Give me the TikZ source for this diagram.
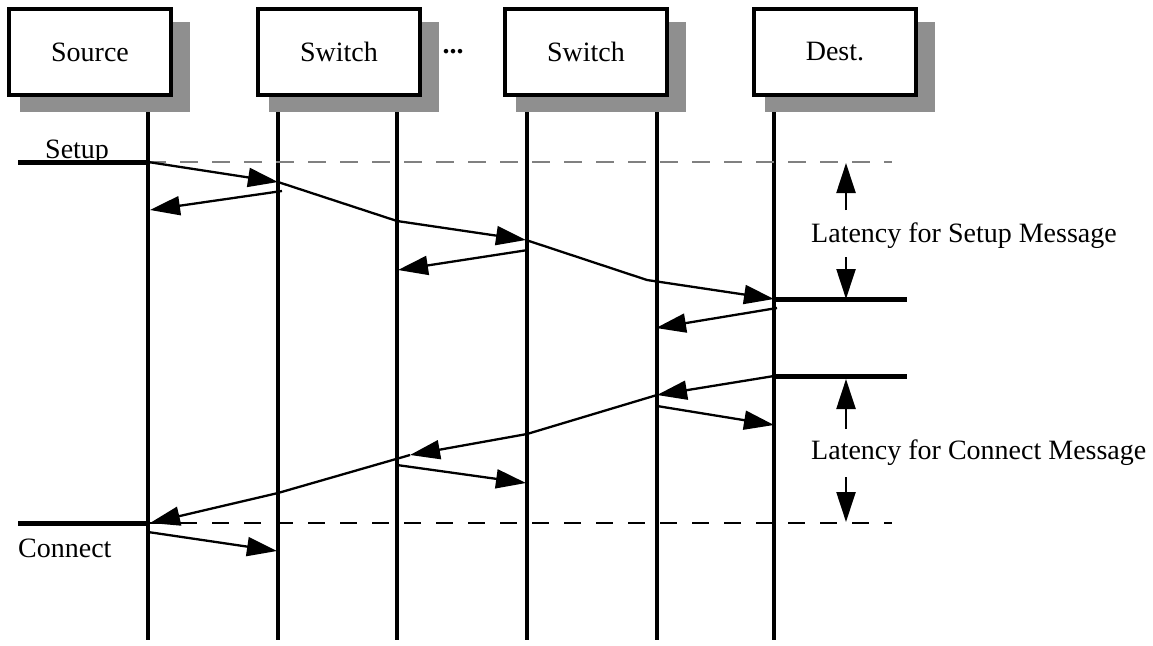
\documentclass[tikz,border=0pt]{standalone}
\usepackage{fontspec}
\setmainfont{Liberation Serif}
\usetikzlibrary{arrows.meta, positioning, shadows}

\begin{document}
\begin{tikzpicture}[x=1pt, y=-1pt, font=\fontsize{28}{34}\selectfont]
	\tikzstyle{entity} = [rectangle, minimum width=162.5pt, minimum height=86.5pt, draw=black, line width=3.8pt, fill=white, outer sep=0pt, drop shadow={shadow xshift=14.5pt, shadow yshift=-14.5pt, shadow scale=1.045, fill=black!44, opacity=1}]
	\tikzstyle{lifeline} = [line width=3.4pt]
	\tikzstyle{msg} = [line width=2.3pt, -{Triangle[length=30pt, width=19pt]}]
	\tikzstyle{bar} = [line width=5pt]
	\tikzstyle{marker} = [black!50, line width=1.6pt, dash pattern=on 18pt off 14pt]
	\tikzstyle{markerdark} = [black, line width=1.3pt, dash pattern=on 17pt off 15pt]

	\useasboundingbox (0,0) rectangle (1153,645);

	% Lifelines
	\foreach \n/\x in {a/148, b/278, c/397, d/527, e/657, f/774} {
		\coordinate (\n top) at (\x,97);
		\coordinate (\n bot) at (\x,640);
		\draw[lifeline] (\n top) -- (\n bot);
	}

	% Nodes
	\node (src) [entity] at (90,52) {Source};
	\node (swa) [entity, right=86.5pt of src] {Switch};
	\node (swb) [entity, right=84.5pt of swa] {Switch};
	\node (dst) [entity, right=86.5pt of swb] {Dest.};
	\node (dots) at (453,52) {\textbf{...}};

	% Setup phase
	\coordinate (setupin) at (18,162);
	\coordinate (a1) at (148,162);
	\coordinate (dashA) at (892,162);
	\coordinate (b1) at (278,182);
	\coordinate (b2) at (282,191);
	\coordinate (a2) at (150,210);
	\coordinate (c1) at (397,221);
	\coordinate (d1) at (526,240);
	\coordinate (d2) at (528,250);
	\coordinate (c2) at (398,270);
	\coordinate (e1) at (647,280);
	\coordinate (f1) at (774,299);
	\coordinate (f2) at (777,308);
	\coordinate (e2) at (656,328);
	\coordinate (setupout) at (907,299);

	\node (setup) [anchor=base west, inner sep=0pt] at (45,158) {Setup};
	\draw[bar] (setupin) -- (a1);
	\draw[marker] (a1) -- (dashA);
	\draw[msg] (a1) -- (b1);
	\draw[msg] (b2) -- (a2);
	\draw[msg] (b1) -- (c1) -- (d1);
	\draw[msg] (d2) -- (c2);
	\draw[msg] (d1) -- (e1) -- (f1);
	\draw[msg] (f2) -- (e2);
	\draw[bar] (f1) -- (setupout);

	% Connect phase
	\coordinate (f3) at (774,376);
	\coordinate (connout) at (907,376);
	\coordinate (e3) at (657,395);
	\coordinate (d3) at (527,434);
	\coordinate (c3) at (410,455);
	\coordinate (b3) at (278,493);
	\coordinate (a3) at (150,523);
	\coordinate (e4) at (657,406);
	\coordinate (f4) at (774,425);
	\coordinate (c4) at (397,465);
	\coordinate (d4) at (526,483);
	\coordinate (a4) at (148,532);
	\coordinate (b4) at (277,551);
	\coordinate (a5) at (148,523);
	\coordinate (connin) at (18,523);
	\coordinate (dashB) at (892,523);

	\node (connect) [anchor=base west, inner sep=0pt] at (18,557) {Connect};
	\draw[bar] (f3) -- (connout);
	\draw[msg] (f3) -- (e3);
	\draw[msg] (e3) -- (d3) -- (c3);
	\draw[msg] (c3) -- (b3) -- (a3);
	\draw[msg] (e4) -- (f4);
	\draw[msg] (c4) -- (d4);
	\draw[msg] (a4) -- (b4);
	\draw[bar] (connin) -- (a5);
	\draw[markerdark] (a5) -- (dashB);

	% Latency markers
	\coordinate (latA0) at (846,163);
	\coordinate (latA1) at (846,210);
	\coordinate (latA2) at (846,257);
	\coordinate (latA3) at (846,299);
	\coordinate (latB0) at (846,379);
	\coordinate (latB1) at (846,429);
	\coordinate (latB2) at (846,477);
	\coordinate (latB3) at (846,522);

	\node (latsetup) [anchor=base west, inner sep=0pt] at (811,242) {Latency for Setup Message};
	\node (latconn) [anchor=base west, inner sep=0pt] at (811,459) {Latency for Connect Message};
	\draw[msg] (latA1) -- (latA0);
	\draw[msg] (latA2) -- (latA3);
	\draw[msg] (latB1) -- (latB0);
	\draw[msg] (latB2) -- (latB3);

\end{tikzpicture}
\end{document}
